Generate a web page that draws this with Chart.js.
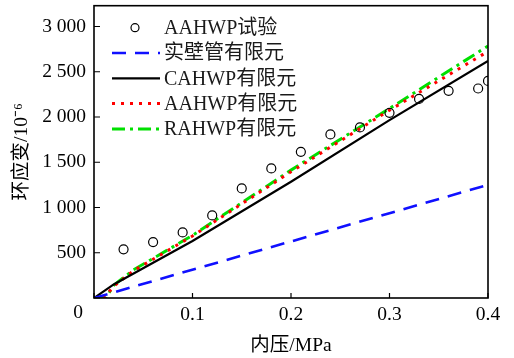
<!DOCTYPE html>
<html><head><meta charset="utf-8">
<script src="https://cdn.jsdelivr.net/npm/chart.js@4.4.0/dist/chart.umd.min.js"></script>
<style>html,body{margin:0;padding:0;background:#fff;}#wrap{width:514px;height:358px;}</style>
</head><body><div id="wrap"><canvas id="c" width="514" height="358"></canvas></div>
<script>
// ---- data ----
const seriesLabels = ['AAHWP试验', '实壁管有限元', 'CAHWP有限元', 'AAHWP有限元', 'RAHWP有限元'];
const testPressure = [0.03, 0.06, 0.09, 0.12, 0.15, 0.18, 0.21, 0.24, 0.27, 0.30, 0.33, 0.36, 0.39, 0.40];
const testStrain   = [538, 618, 725, 913, 1211, 1432, 1615, 1808, 1885, 2046, 2200, 2289, 2315, 2399];
const solidPressure = [0, 0.4];
const solidStrain   = [0, 1250];
const caPressure = [0, 0.02, 0.1, 0.2, 0.3, 0.4];
const caStrain   = [0, 150, 630, 1285, 1965, 2620];
const aaPressure = [0, 0.01, 0.02, 0.04, 0.1, 0.2, 0.3, 0.4];
const aaStrain   = [0, 0, 130, 300, 685, 1395, 2075, 2725];
const raPressure = [0, 0.012, 0.02, 0.04, 0.1, 0.2, 0.3, 0.4];
const raStrain   = [0, 0, 140, 310, 692, 1413, 2094, 2785];
const xTickValues = [0, 0.1, 0.2, 0.3, 0.4];
const xTickLabels = ['0', '0.1', '0.2', '0.3', '0.4'];
const yTickValues = [0, 500, 1000, 1500, 2000, 2500, 3000];
const yTickLabels = ['0', '500', '1 000', '1 500', '2 000', '2 500', '3 000'];
const xTitle = '内压/MPa';
const yTitle = '环应变/10⁻⁶';
const xMin = 0, xMax = 0.4, yMin = 0, yMax = 3230;

const pts = (xs, ys) => xs.map((x, i) => ({x: x, y: ys[i]}));
const FAM = '"Liberation Serif", "Times New Roman", "Noto Sans CJK SC", serif';

const framePlugin = {
  id: 'frame',
  afterDraw(chart) {
    const ctx = chart.ctx, a = chart.chartArea;
    const xs = chart.scales.x, ys = chart.scales.y;
    ctx.save();
    // inward ticks
    ctx.strokeStyle = '#000'; ctx.lineWidth = 1.2; ctx.setLineDash([]);
    ctx.beginPath();
    xs.ticks.forEach(t => { const p = xs.getPixelForValue(t.value); ctx.moveTo(p, a.bottom); ctx.lineTo(p, a.bottom - 5); });
    ys.ticks.forEach(t => { const p = ys.getPixelForValue(t.value); ctx.moveTo(a.left, p); ctx.lineTo(a.left + 6, p); });
    ctx.stroke();
    // frame
    ctx.lineWidth = 1.6;
    ctx.strokeRect(a.left, a.top, a.right - a.left, a.bottom - a.top);
    // origin label
    ctx.fillStyle = '#000';
    ctx.font = '19.5px ' + FAM;
    ctx.textAlign = 'center'; ctx.textBaseline = 'middle';
    ctx.fillText(xTickLabels[0], xs.getPixelForValue(0) - 16, a.bottom + 15);
    // legend
    const lx0 = a.left + 18, lx1 = a.left + 66, tx = a.left + 70, ly0 = a.top + 22, dy = 25.3;
    ctx.font = '20px ' + FAM;
    ctx.textAlign = 'left';
    chart.data.datasets.forEach((ds, i) => {
      const y = ly0 + i * dy;
      ctx.save();
      if (ds.showLine === false) {
        ctx.strokeStyle = ds.pointBorderColor; ctx.lineWidth = ds.pointBorderWidth;
        ctx.beginPath(); ctx.arc((lx0 + lx1) / 2 - 1, y, 4, 0, Math.PI * 2); ctx.stroke();
      } else {
        ctx.strokeStyle = ds.borderColor; ctx.lineWidth = ds.borderWidth;
        ctx.setLineDash(ds.borderDash || []);
        ctx.beginPath(); ctx.moveTo(lx0, y); ctx.lineTo(lx1, y); ctx.stroke();
      }
      ctx.restore();
      ctx.fillStyle = '#1a1a1a';
      ctx.fillText(ds.label, tx, y + 1);
    });
    ctx.restore();
  }
};

const tickFont = {family: FAM, size: 19.5};
new Chart(document.getElementById('c'), {
  type: 'line',
  data: {
    datasets: [
      {label: seriesLabels[0], data: pts(testPressure, testStrain), showLine: false,
       pointRadius: 4.5, pointBorderWidth: 1.2, pointBorderColor: '#000', pointBackgroundColor: 'rgba(0,0,0,0)'},
      {label: seriesLabels[1], data: pts(solidPressure, solidStrain), borderColor: '#1010ff', borderWidth: 2.6,
       borderDash: [14, 9], pointRadius: 0, borderCapStyle: 'butt'},
      {label: seriesLabels[2], data: pts(caPressure, caStrain), borderColor: '#000', borderWidth: 2.2, pointRadius: 0},
      {label: seriesLabels[3], data: pts(aaPressure, aaStrain), borderColor: '#ff0000', borderWidth: 3,
       borderDash: [3, 6], pointRadius: 0, borderCapStyle: 'butt'},
      {label: seriesLabels[4], data: pts(raPressure, raStrain), borderColor: '#00e000', borderWidth: 3,
       borderDash: [13, 5, 3, 5], pointRadius: 0, borderCapStyle: 'butt'}
    ]
  },
  options: {
    responsive: false, animation: false, devicePixelRatio: 1,
    layout: {padding: {top: 5, right: 26, left: 0, bottom: 0}},
    plugins: {legend: {display: false}, tooltip: {enabled: false}},
    elements: {line: {tension: 0, fill: false}},
    scales: {
      x: {
        type: 'linear', min: xMin, max: xMax,
        afterBuildTicks: s => { s.ticks = xTickValues.map(v => ({value: v})); },
        afterFit: s => { s.height = 60; s.paddingLeft = 0; s.paddingRight = 0; },
        grid: {display: false, drawTicks: false}, border: {display: false},
        ticks: {padding: 5, color: '#000', font: tickFont, maxRotation: 0, autoSkip: false,
                callback: (v, i) => i === 0 ? '' : xTickLabels[i]},
        title: {display: true, text: xTitle, color: '#000', font: tickFont, padding: {top: 0, bottom: 0}}
      },
      y: {
        type: 'linear', min: yMin, max: yMax,
        afterBuildTicks: s => { s.ticks = yTickValues.map(v => ({value: v})); },
        afterFit: s => { s.width = 94; s.paddingTop = 0; s.paddingBottom = 0; },
        grid: {display: false, drawTicks: false}, border: {display: false},
        ticks: {padding: 8, color: '#000', font: tickFont, autoSkip: false,
                callback: (v, i) => i === 0 ? '' : yTickLabels[i]},
        title: {display: true, text: yTitle, color: '#000', font: tickFont, padding: {top: 10, bottom: 0}}
      }
    }
  },
  plugins: [framePlugin]
});
</script>
</body></html>
